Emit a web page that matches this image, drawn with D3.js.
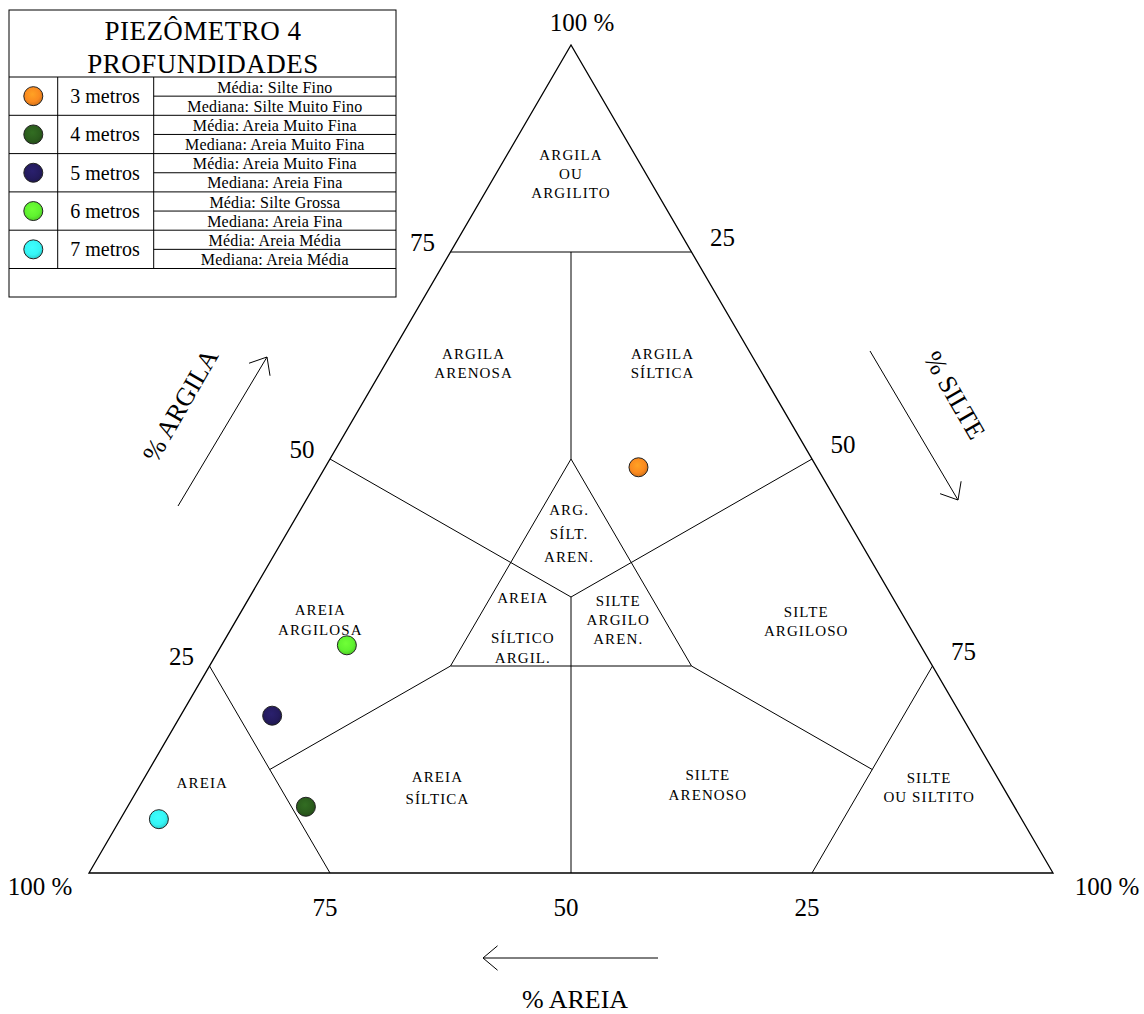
<!DOCTYPE html>
<html>
<head>
<meta charset="utf-8">
<script src="https://cdn.jsdelivr.net/npm/d3@7"></script>
<style>
  html, body { margin: 0; padding: 0; background: #fff; }
  svg { display: block; }
  text { font-family: "Liberation Serif", "Times New Roman", serif; fill: #000; }
</style>
</head>
<body>
<svg id="chart" width="1144" height="1014"></svg>
<script>
// Samples of piezometer 4, one per depth: clay / silt / sand percentages
const depths  = ["3 metros", "4 metros", "5 metros", "6 metros", "7 metros"];
const clayPct = [49, 8, 19, 27.5, 6.5];
const siltPct = [32.5, 18.5, 9.5, 13, 4];
const sandPct = [18.5, 73.5, 71.5, 59.5, 89.5];
const colors  = ["#fb8a1f", "#2b5d1d", "#241b5e", "#5ff22f", "#35f5f5"];
const media   = ["Silte Fino", "Areia Muito Fina", "Areia Muito Fina", "Silte Grossa", "Areia Média"];
const mediana = ["Silte Muito Fino", "Areia Muito Fina", "Areia Fina", "Areia Fina", "Areia Média"];

// Axis ticks (percent)
const edgeTicks = [25, 50, 75];

// Shepard classification: boundary segments as [clay, silt] end points (%)
const boundaries = [
  [[75, 0], [75, 25]],
  [[75, 12.5], [50, 25]],
  [[50, 25], [25, 50]],
  [[25, 50], [25, 25]],
  [[25, 25], [50, 25]],
  [[100 / 3, 100 / 3], [50, 0]],
  [[100 / 3, 100 / 3], [50, 50]],
  [[100 / 3, 100 / 3], [0, 50]],
  [[25, 0], [0, 25]],
  [[25, 75], [0, 75]],
  [[25, 25], [12.5, 12.5]],
  [[25, 50], [12.5, 75]]
];

// Class names with their centre as [clay, silt] (%)
const classNames = [
  ["ARGILA", "OU", "ARGILITO"],
  ["ARGILA", "ARENOSA"],
  ["ARGILA", "SÍLTICA"],
  ["ARG.", "SÍLT.", "AREN."],
  ["AREIA", "", "SÍLTICO", "ARGIL."],
  ["SILTE", "ARGILO", "AREN."],
  ["AREIA", "ARGILOSA"],
  ["SILTE", "ARGILOSO"],
  ["AREIA"],
  ["AREIA", "SÍLTICA"],
  ["SILTE", "ARENOSO"],
  ["SILTE", "OU SILTITO"]
];
const classCentres = [
  [84.5, 7.75], [61.6, 9.1], [61.6, 28.7], [41, 29.3], [29.6, 30.2], [30.6, 39.6],
  [30.6, 8.7], [30.4, 59.2], [10.9, 6.3], [10.3, 31], [10.6, 58.9], [10.3, 82]
];
const classLineGap = [19, 19, 19, 23.5, 20, 19, 20, 19, 19, 22, 20, 19];

const svg = d3.select("#chart");

// Ternary projection: clay sets the height, silt + clay/2 the horizontal position
const yScale = d3.scaleLinear().domain([0, 100]).range([873, 45]);
const xScale = d3.scaleLinear().domain([0, 100]).range([89, 1053]);
const proj = (clay, silt) => [xScale(silt + clay / 2), yScale(clay)];

// ---- triangle frame ----
const corners = [proj(0, 0), proj(0, 100), proj(100, 0)];
svg.append("path")
  .attr("d", d3.line()(corners) + "Z")
  .attr("fill", "none")
  .attr("stroke", "#000")
  .attr("stroke-width", 1.3);

// ---- class boundaries ----
svg.append("g")
  .selectAll("line")
  .data(boundaries)
  .join("line")
  .attr("x1", d => proj(...d[0])[0])
  .attr("y1", d => proj(...d[0])[1])
  .attr("x2", d => proj(...d[1])[0])
  .attr("y2", d => proj(...d[1])[1])
  .attr("stroke", "#000")
  .attr("stroke-width", 1);

// ---- class names ----
const names = svg.append("g")
  .attr("font-size", 15)
  .attr("letter-spacing", 1.1)
  .attr("text-anchor", "middle");
classNames.forEach((lines, i) => {
  const [cx, cy] = proj(...classCentres[i]);
  const gap = classLineGap[i];
  const top = cy - gap * (lines.length - 1) / 2;
  lines.forEach((t, k) => {
    if (!t) return;
    names.append("text")
      .attr("x", cx)
      .attr("y", top + k * gap)
      .attr("dy", "0.35em")
      .attr("fill", "#111")
      .text(t);
  });
});

// ---- tick labels ----
const ticks = svg.append("g").attr("font-size", 25).attr("text-anchor", "middle");
// clay along the left edge
edgeTicks.forEach(v => {
  const [x, y] = proj(v, 0);
  ticks.append("text").attr("x", x - 28).attr("y", y - 10).attr("dy", "0.35em").text(v);
});
// silt along the right edge
edgeTicks.forEach(v => {
  const [x, y] = proj(100 - v, v);
  ticks.append("text").attr("x", x + 31).attr("y", y - 15).attr("dy", "0.35em").text(v);
});
// sand along the base
edgeTicks.forEach(v => {
  const [x, y] = proj(0, 100 - v);
  ticks.append("text").attr("x", x - 5).attr("y", y + 34).attr("dy", "0.35em").text(v);
});
// 100 % at each corner
const [ax, ay] = proj(0, 0), [bx, by] = proj(0, 100), [tx, ty] = proj(100, 0);
ticks.append("text").attr("x", ax - 49).attr("y", ay + 13).attr("dy", "0.35em").text("100 %");
ticks.append("text").attr("x", bx + 54).attr("y", by + 13).attr("dy", "0.35em").text("100 %");
ticks.append("text").attr("x", tx + 11).attr("y", ty - 23).attr("dy", "0.35em").text("100 %");

// ---- axis titles with direction arrows ----
function arrow(x1, y1, x2, y2) {
  const g = svg.append("g").attr("stroke", "#000").attr("stroke-width", 1).attr("fill", "none");
  g.append("line").attr("x1", x1).attr("y1", y1).attr("x2", x2).attr("y2", y2);
  const ang = Math.atan2(y1 - y2, x1 - x2);
  const len = 19, spread = 40 * Math.PI / 180;
  [-spread, spread].forEach(s => {
    g.append("line")
      .attr("x1", x2).attr("y1", y2)
      .attr("x2", x2 + len * Math.cos(ang + s))
      .attr("y2", y2 + len * Math.sin(ang + s));
  });
}
arrow(178, 506, 267, 357);
arrow(870, 351, 958, 500);
arrow(658, 958, 483, 958);

const titles = svg.append("g").attr("font-size", 26).attr("text-anchor", "middle");
titles.append("text")
  .attr("transform", "translate(180,405) rotate(-60)")
  .attr("dy", "0.35em")
  .text("% ARGILA");
titles.append("text")
  .attr("transform", "translate(955,395) rotate(60)")
  .attr("dy", "0.35em")
  .text("% SILTE");
titles.append("text")
  .attr("x", 575).attr("y", 1000)
  .attr("dy", "0.3em")
  .text("% AREIA");

// ---- shaded marker fills ----
const defs = svg.append("defs");
colors.forEach((c, i) => {
  const g = defs.append("radialGradient")
    .attr("id", "mk" + i)
    .attr("cx", "45%").attr("cy", "40%").attr("r", "60%");
  g.append("stop").attr("offset", "0%").attr("stop-color", d3.color(c).brighter(0.45));
  g.append("stop").attr("offset", "65%").attr("stop-color", c);
  g.append("stop").attr("offset", "100%").attr("stop-color", d3.color(c).darker(0.5));
});

// ---- sample points ----
const samples = depths.map((d, i) => ({ clay: clayPct[i], silt: siltPct[i], sand: sandPct[i], i }));
svg.append("g")
  .selectAll("circle")
  .data(samples)
  .join("circle")
  .attr("cx", d => proj(d.clay, d.silt)[0])
  .attr("cy", d => proj(d.clay, d.silt)[1])
  .attr("r", 9.5)
  .attr("fill", d => `url(#mk${d.i})`)
  .attr("stroke", "#222")
  .attr("stroke-width", 1);

// ---- legend table ----
const L = { x0: 9, x1: 396, y0: 10, y1: 297, head: 77, rowH: 38.3, c1: 57.7, c2: 153.7 };
const leg = svg.append("g");
leg.append("rect")
  .attr("x", L.x0).attr("y", L.y0)
  .attr("width", L.x1 - L.x0).attr("height", L.y1 - L.y0)
  .attr("fill", "#fff").attr("stroke", "#000").attr("stroke-width", 1);
leg.append("text").attr("x", 203).attr("y", 40).attr("font-size", 27)
  .attr("letter-spacing", 0.5).attr("text-anchor", "middle").text("PIEZÔMETRO 4");
leg.append("text").attr("x", 203).attr("y", 73).attr("font-size", 27)
  .attr("letter-spacing", 0.5).attr("text-anchor", "middle").text("PROFUNDIDADES");

const rowsBottom = L.head + L.rowH * depths.length;
const lineStyle = sel => sel.attr("stroke", "#000").attr("stroke-width", 1);
leg.append("line").attr("x1", L.c1).attr("x2", L.c1).attr("y1", L.head).attr("y2", rowsBottom).call(lineStyle);
leg.append("line").attr("x1", L.c2).attr("x2", L.c2).attr("y1", L.head).attr("y2", rowsBottom).call(lineStyle);

depths.forEach((d, i) => {
  const top = L.head + i * L.rowH;
  const mid = top + L.rowH / 2;
  leg.append("line").attr("x1", L.x0).attr("x2", L.x1).attr("y1", top).attr("y2", top).call(lineStyle);
  leg.append("line").attr("x1", L.c2).attr("x2", L.x1).attr("y1", mid).attr("y2", mid).call(lineStyle);
  leg.append("circle")
    .attr("cx", 33.3).attr("cy", mid).attr("r", 9.5)
    .attr("fill", `url(#mk${i})`).attr("stroke", "#222").attr("stroke-width", 1);
  leg.append("text").attr("x", 105).attr("y", mid).attr("dy", "0.35em")
    .attr("font-size", 20).attr("text-anchor", "middle").text(d);
  const cx = (L.c2 + L.x1) / 2;
  leg.append("text").attr("x", cx).attr("y", mid - 3.5).attr("font-size", 16)
    .attr("letter-spacing", 0.2).attr("text-anchor", "middle").text("Média: " + media[i]);
  leg.append("text").attr("x", cx).attr("y", mid + L.rowH / 2 - 3.5).attr("font-size", 16)
    .attr("letter-spacing", 0.2).attr("text-anchor", "middle").text("Mediana: " + mediana[i]);
});
leg.append("line").attr("x1", L.x0).attr("x2", L.x1).attr("y1", rowsBottom).attr("y2", rowsBottom).call(lineStyle);
</script>
</body>
</html>
